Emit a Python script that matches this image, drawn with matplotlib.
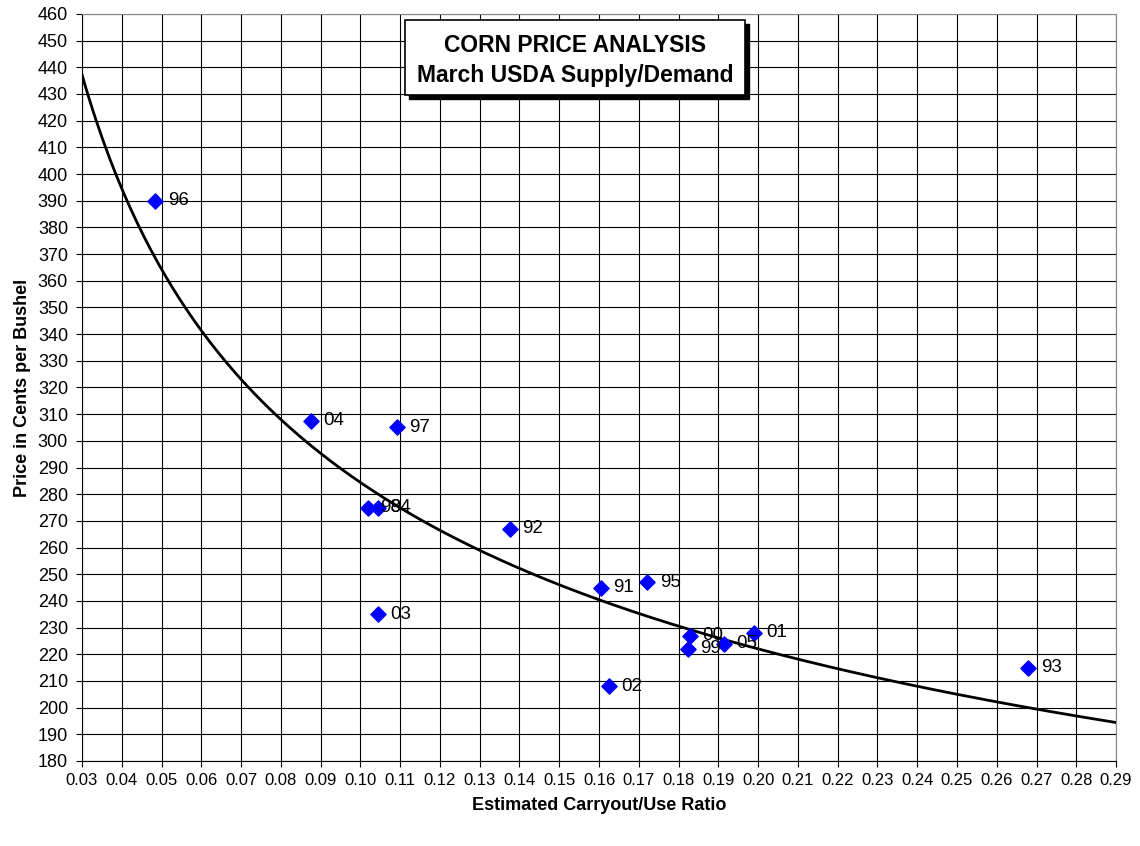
import numpy as np
import matplotlib.pyplot as plt
from matplotlib.patches import Rectangle

plt.rcParams['font.family'] = ['Liberation Sans', 'DejaVu Sans']

# carryout/use ratio, price (cents/bu), year label
ratio = [0.0484, 0.0876, 0.1092, 0.1019, 0.1044, 0.1376, 0.1044, 0.1605,
         0.1721, 0.1829, 0.1824, 0.1914, 0.1990, 0.1625, 0.2679]
price = [390, 307.5, 305, 275, 275, 267, 235, 245,
         247, 227, 222, 224, 228, 208, 215]
years = ['96', '04', '97', '98', '94', '92', '03', '91',
         '95', '00', '99', '05', '01', '02', '93']

fig = plt.figure(figsize=(11.4, 8.46), dpi=100)
ax = fig.add_axes([0.0719, 0.1005, 0.9071, 0.883])

# power trendline y = a*x^b (least squares in log space)
b, loga = np.polyfit(np.log(ratio), np.log(price), 1)
xs = np.linspace(0.03, 0.29, 300)
ax.plot(xs, np.exp(loga) * xs ** b, color='black', lw=2, zorder=3)

ax.scatter(ratio, price, marker='D', s=60, color='#0000ff', zorder=4)
for x, y, t in zip(ratio, price, years):
    ax.annotate(t, (x, y), xytext=(9, 0), textcoords='offset points',
                va='center', ha='left', fontsize=13.5, zorder=5)

ax.set_xlim(0.03, 0.29)
ax.set_ylim(180, 460)
ax.set_xticks(np.arange(0.03, 0.2901, 0.01))
ax.set_yticks(np.arange(180, 461, 10))
ax.set_xticklabels(['%.2f' % v for v in np.arange(0.03, 0.2901, 0.01)])
ax.tick_params(length=4, direction='out', width=0.8)
ax.tick_params(axis='x', labelsize=12, pad=5)
ax.tick_params(axis='y', labelsize=13, pad=6)
ax.grid(True, color='black', lw=0.8)
ax.set_axisbelow(True)
for s in ax.spines.values():
    s.set_color('#888888')
ax.spines['left'].set_color('black')
ax.spines['bottom'].set_color('black')

ax.set_xlabel('Estimated Carryout/Use Ratio', fontsize=13, fontweight='bold', labelpad=6)
ax.set_ylabel('Price in Cents per Bushel', fontsize=13, fontweight='bold', labelpad=5)

# title box with shadow
bx, by, bw, bh = 0.3124, 0.8916, 0.3288, 0.1004
ax.add_patch(Rectangle((bx + 0.004, by - 0.006), bw, bh, transform=ax.transAxes,
                       facecolor='black', edgecolor='black', zorder=6))
ax.add_patch(Rectangle((bx, by), bw, bh, transform=ax.transAxes,
                       facecolor='white', edgecolor='black', lw=1.2, zorder=7))
ax.text(bx + bw / 2, by + bh / 2 - 0.004, 'CORN PRICE ANALYSIS\nMarch USDA Supply/Demand',
        transform=ax.transAxes, ha='center', va='center', fontsize=16.5,
        fontweight='bold', linespacing=1.35, zorder=8)

fig.savefig('out.png', dpi=100)
